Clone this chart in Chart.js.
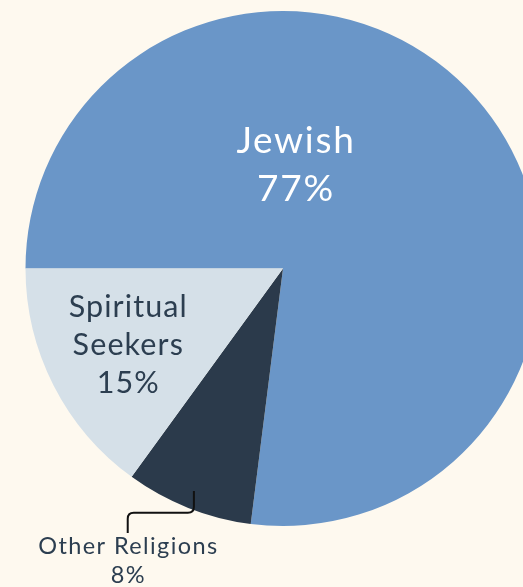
<!DOCTYPE html>
<html><head><meta charset="utf-8">
<script src="https://cdn.jsdelivr.net/npm/chart.js@4.4.1/dist/chart.umd.min.js"></script>
<style>
html,body{margin:0;padding:0;background:#fef9ef;overflow:hidden;width:523px;height:587px;}
#wrap{position:absolute;left:0;top:0;width:566px;height:587px;}
</style></head><body>
<div id="wrap"><canvas id="c"></canvas></div>
<script>
const categories = ["Jewish", "Other Religions", "Spiritual Seekers"];
const values = [77, 8, 15];
const labelLines = [["Jewish", "77%"], ["Other Religions", "8%"], ["Spiritual", "Seekers", "15%"]];
const colors = ["#6a96c8", "#2b3a4b", "#d5e0e8"];

const FONT = "Lato, 'Open Sans', sans-serif";
function drawLines(ctx, lines, x, y, step, spacing) {
  ctx.letterSpacing = spacing + 'px';
  lines.forEach((t, i) => ctx.fillText(t, x + spacing / 2, y + i * step));
  ctx.letterSpacing = '0px';
}
const labelPlugin = {
  id: 'labels',
  afterDraw(chart) {
    const arc = chart.getDatasetMeta(0).data[0];
    const cx = arc.x, cy = arc.y, R = arc.outerRadius;
    const ctx = chart.ctx;
    ctx.save();
    ctx.textAlign = 'center';
    ctx.textBaseline = 'alphabetic';
    // Jewish
    ctx.fillStyle = '#ffffff';
    ctx.font = '400 37px ' + FONT;
    drawLines(ctx, labelLines[0], cx + 0.047 * R, cy - 0.45 * R, 48, 1.7);
    // Spiritual Seekers
    ctx.fillStyle = '#2c3e50';
    ctx.font = '400 30.5px ' + FONT;
    drawLines(ctx, labelLines[2], cx - 0.603 * R, cy + 0.187 * R, 38, 1.1);
    // Other Religions
    ctx.font = '400 23.5px ' + FONT;
    drawLines(ctx, labelLines[1], cx - 0.603 * R, cy + 1.11 * R, 29, 1.4);
    // leader line
    ctx.strokeStyle = '#111111';
    ctx.lineWidth = 2;
    const x1 = cx - 0.346 * R, y1 = cy + 0.864 * R, yb = cy + 0.949 * R, x2 = cx - 0.603 * R, y2 = cy + 1.027 * R, r = 6;
    ctx.beginPath();
    ctx.moveTo(x1, y1);
    ctx.lineTo(x1, yb - r);
    ctx.quadraticCurveTo(x1, yb, x1 - r, yb);
    ctx.lineTo(x2 + r, yb);
    ctx.quadraticCurveTo(x2, yb, x2, yb + r);
    ctx.lineTo(x2, y2);
    ctx.stroke();
    ctx.restore();
  }
};

new Chart(document.getElementById('c'), {
  type: 'pie',
  data: {
    labels: categories,
    datasets: [{ data: values, backgroundColor: colors, borderWidth: 0, hoverOffset: 0 }]
  },
  options: {
    responsive: true,
    maintainAspectRatio: false,
    animation: false,
    rotation: -90,
    layout: { padding: { top: 11, bottom: 61, left: 0, right: 0 } },
    plugins: { legend: { display: false }, tooltip: { enabled: false } },
    events: []
  },
  plugins: [labelPlugin]
});
</script>
</body></html>
